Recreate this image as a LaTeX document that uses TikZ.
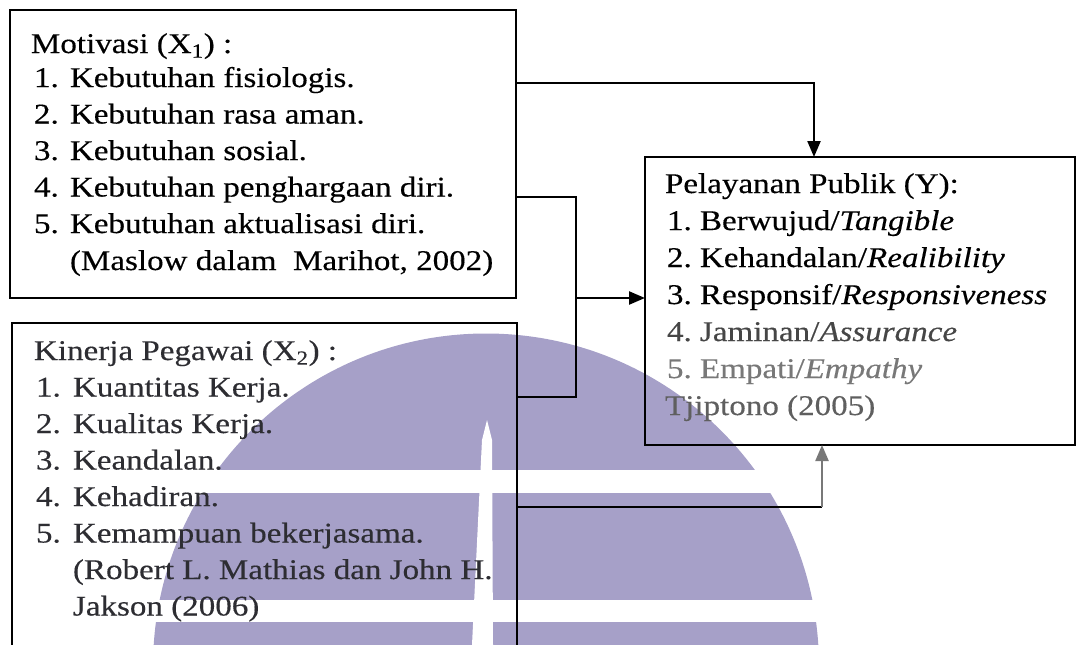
\documentclass[tikz,border=0pt]{standalone}
\usepackage{fontspec}
\setmainfont{Liberation Serif}[FakeStretch=1.16,FakeBold=0.35]
\usetikzlibrary{arrows.meta}
\definecolor{wm}{RGB}{166,160,200}
\definecolor{dk}{RGB}{45,45,50}
\definecolor{g4}{RGB}{70,70,70}
\definecolor{g5}{RGB}{120,120,120}
\definecolor{g6}{RGB}{95,95,95}
\newcommand{\nb}[2]{\makebox[#1pt][l]{#2}}
\begin{document}
\begin{tikzpicture}[x=1pt,y=1pt,
  box/.style={draw=black, line width=2.8pt, rectangle, inner sep=0pt, outer sep=0pt, anchor=north west},
  conn/.style={line width=2.3pt, line join=miter},
  arr/.style={conn, -{Triangle[length=16pt,width=13pt]}},
  txt/.style={anchor=base west, inner sep=0pt, outer sep=0pt, font=\fontsize{28.5}{34}\selectfont},
]
\useasboundingbox (0,0) rectangle (1079,-645);
\clip (0,0) rectangle (1079,-645);
% watermark
\fill[wm] (486,-666.5) circle[radius=333];
\fill[white] (0,-470) rectangle (1079,-493);
\fill[white] (0,-600) rectangle (1079,-622);
\fill[white] (487,-420) -- (492,-440) -- (493,-645) -- (472,-645) -- (482,-440) -- cycle;
% boxes
\node[box, minimum width=506pt, minimum height=288pt] (M) at (10,-10) {};
\node[box, minimum width=505pt, minimum height=345pt] (K) at (12,-323) {};
\node[box, minimum width=430pt, minimum height=288pt] (P) at (645,-157) {};
% box 1 text
\node[txt] (m0) at (31,-53) {Motivasi (X\textsubscript{1}) :};
\node[txt] (m1) at (34,-87) {\nb{36}{1.}Kebutuhan fisiologis.};
\node[txt] (m2) at (34,-123.5) {\nb{36}{2.}Kebutuhan rasa aman.};
\node[txt] (m3) at (34,-160) {\nb{36}{3.}Kebutuhan sosial.};
\node[txt] (m4) at (34,-196.5) {\nb{36}{4.}Kebutuhan penghargaan diri.};
\node[txt] (m5) at (34,-233) {\nb{36}{5.}Kebutuhan aktualisasi diri.};
\node[txt] (m6) at (70,-270) {(Maslow dalam\ \ Marihot, 2002)};
% box 2 text
\node[txt, text=dk] (k0) at (34,-360) {Kinerja Pegawai (X\textsubscript{2}) :};
\node[txt, text=dk] (k1) at (36,-396.5) {\nb{37}{1.}Kuantitas Kerja.};
\node[txt, text=dk] (k2) at (36,-433) {\nb{37}{2.}Kualitas Kerja.};
\node[txt, text=dk] (k3) at (36,-469.5) {\nb{37}{3.}Keandalan.};
\node[txt, text=dk] (k4) at (36,-506) {\nb{37}{4.}Kehadiran.};
\node[txt, text=dk] (k5) at (36,-542.5) {\nb{37}{5.}Kemampuan bekerjasama.};
\node[txt, text=dk] (k6) at (73,-579) {(Robert L. Mathias dan John H.};
\node[txt, text=dk] (k7) at (73,-615.5) {Jakson (2006)};
% box 3 text
\node[txt] (p0) at (665,-193) {Pelayanan Publik (Y):};
\node[txt] (p1) at (667,-230) {\nb{33}{1.}Berwujud/\textit{Tangible}};
\node[txt] (p2) at (667,-267) {\nb{33}{2.}Kehandalan/\textit{Realibility}};
\node[txt] (p3) at (667,-304) {\nb{33}{3.}Responsif/\textit{Responsiveness}};
\node[txt, text=g4] (p4) at (667,-341) {\nb{33}{4.}Jaminan/\textit{Assurance}};
\node[txt, text=g5] (p5) at (667,-378) {\nb{33}{5.}Empati/\textit{Empathy}};
\node[txt, text=g6] (p6) at (665,-415) {Tjiptono (2005)};
% connectors
\coordinate (a) at (814,-83);
\draw[arr] (M.east |- a) -- (a) -- (P.north -| a);
\coordinate (b1) at (576,-197);
\coordinate (b2) at (576,-397);
\coordinate (bm) at (576,-298);
\draw[conn] (M.east |- b1) -- (b1) -- (b2) -- (K.east |- b2);
\draw[arr] (bm) -- (P.west |- bm);
\coordinate (c) at (822,-507);
\draw[conn] (K.east |- c) -- (c);
\draw[arr, draw=g5, fill=g5] (c) -- (P.south -| c);
\end{tikzpicture}
\end{document}
